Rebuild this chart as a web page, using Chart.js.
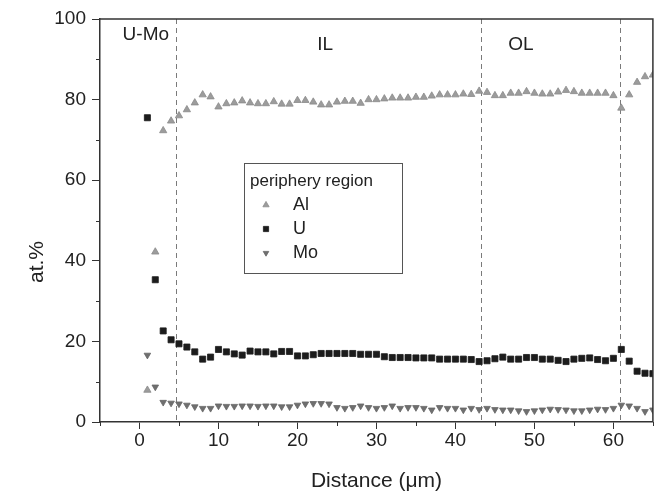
<!DOCTYPE html>
<html>
<head>
<meta charset="utf-8">
<script src="https://cdn.jsdelivr.net/npm/chart.js@4/dist/chart.umd.min.js"></script>
<style>
  html, body { margin: 0; padding: 0; background: #fff; }
  #wrap { width: 658px; height: 498px; }
</style>
</head>
<body>
<div id="wrap"><canvas id="c" width="658" height="498"></canvas></div>
<script>
// Composition profile across the periphery region (EDS line scan)
const distance = [1, 2, 3, 4, 5, 6, 7, 8, 9, 10, 11, 12, 13, 14, 15, 16, 17, 18, 19, 20,
  21, 22, 23, 24, 25, 26, 27, 28, 29, 30, 31, 32, 33, 34, 35, 36, 37, 38, 39, 40,
  41, 42, 43, 44, 45, 46, 47, 48, 49, 50, 51, 52, 53, 54, 55, 56, 57, 58, 59, 60,
  61, 62, 63, 64, 65];

const alValues = [7.9, 42.2, 72.3, 74.7, 76.0, 77.5, 79.2, 81.2, 80.7, 78.2,
  79.0, 79.2, 79.7, 79.2, 79.0, 79.0, 79.5, 78.9, 78.9, 79.8,
  79.8, 79.4, 78.7, 78.7, 79.4, 79.6, 79.6, 79.1, 80.0, 80.0,
  80.2, 80.4, 80.4, 80.4, 80.6, 80.6, 80.9, 81.2, 81.2, 81.2,
  81.4, 81.3, 82.1, 81.8, 81.0, 81.0, 81.6, 81.6, 82.0, 81.6,
  81.4, 81.4, 81.9, 82.3, 82.0, 81.6, 81.6, 81.6, 81.6, 81.0,
  77.9, 81.2, 84.3, 85.7, 86.1];

const uValues = [75.5, 35.3, 22.6, 20.4, 19.4, 18.6, 17.4, 15.6, 16.1, 18.0,
  17.4, 16.9, 16.6, 17.6, 17.4, 17.4, 16.9, 17.5, 17.5, 16.4,
  16.4, 16.7, 17.0, 17.0, 17.0, 17.0, 17.0, 16.8, 16.8, 16.8,
  16.2, 16.0, 16.0, 16.0, 15.9, 15.9, 15.9, 15.6, 15.6, 15.6,
  15.6, 15.5, 15.0, 15.2, 15.7, 16.1, 15.6, 15.6, 16.0, 16.0,
  15.6, 15.6, 15.3, 15.0, 15.6, 15.8, 15.9, 15.5, 15.2, 15.8,
  18.0, 15.1, 12.6, 12.1, 12.0];

const moValues = [16.6, 8.7, 4.9, 4.7, 4.5, 4.2, 3.8, 3.4, 3.4, 4.0,
  3.9, 3.9, 4.0, 4.0, 3.9, 4.0, 4.0, 3.8, 3.8, 4.2,
  4.5, 4.6, 4.6, 4.5, 3.6, 3.4, 3.6, 4.0, 3.6, 3.4,
  3.6, 4.0, 3.4, 3.6, 3.6, 3.4, 3.0, 3.6, 3.4, 3.4,
  3.0, 3.4, 3.1, 3.4, 3.1, 3.0, 3.0, 2.8, 2.6, 2.8,
  3.0, 3.2, 3.1, 3.0, 2.8, 2.8, 3.0, 3.2, 3.1, 3.4,
  4.2, 4.0, 3.4, 2.6, 3.0];

const seriesNames = ['Al', 'U', 'Mo'];
const legendTitle = 'periphery region';
const yTitle = 'at.%';

const xTicks = [0, 10, 20, 30, 40, 50, 60];
const xMinorTicks = [-5, 5, 15, 25, 35, 45, 55, 65];
const yTicks = [0, 20, 40, 60, 80, 100];
const yMinorTicks = [10, 30, 50, 70, 90];

// Layer boundaries (µm) and the names of the zones between them
const regionBounds = [4.6, 43.2, 60.8];
const regionNames = ['U-Mo', 'IL', 'OL'];
const regionLabelX = [0.8, 23.5, 48.3];
const regionLabelY = [96, 93.5, 93.5];

const FONT = '"Liberation Sans", Arial, Helvetica, sans-serif';
const AXIS_COLOR = '#333';

const styles = {
  Al: { style: 'triangle', rotation: 0, radius: 4.2, fill: '#9c9c9c', stroke: '#8a8a8a' },
  U:  { style: 'rect', rotation: 0, radius: 4.3, fill: '#1c1c1c', stroke: '#1c1c1c' },
  Mo: { style: 'triangle', rotation: 180, radius: 3.8, fill: '#6f6f6f', stroke: '#666' }
};

function makeSet(name, values) {
  const s = styles[name];
  return {
    label: name,
    data: distance.map((d, i) => ({ x: d, y: values[i] })),
    showLine: false,
    pointStyle: s.style,
    rotation: s.rotation,
    pointRadius: s.radius,
    pointBackgroundColor: s.fill,
    pointBorderColor: s.stroke,
    pointBorderWidth: 0.8
  };
}

const decorations = {
  id: 'decorations',
  beforeDatasetsDraw(chart) {
    const { ctx, chartArea: a, scales: { x, y } } = chart;
    ctx.save();
    // zone boundaries
    ctx.strokeStyle = '#7a7a7a';
    ctx.lineWidth = 1;
    ctx.setLineDash([5, 4]);
    regionBounds.forEach(b => {
      const px = Math.round(x.getPixelForValue(b)) + 0.5;
      ctx.beginPath();
      ctx.moveTo(px, a.top);
      ctx.lineTo(px, a.bottom);
      ctx.stroke();
    });
    ctx.setLineDash([]);
    // zone names
    ctx.fillStyle = '#222';
    ctx.font = '19px ' + FONT;
    ctx.textAlign = 'center';
    ctx.textBaseline = 'middle';
    regionNames.forEach((n, i) => {
      ctx.fillText(n, x.getPixelForValue(regionLabelX[i]), y.getPixelForValue(regionLabelY[i]));
    });
    ctx.restore();
  },
  afterDraw(chart) {
    const { ctx, chartArea: a, scales: { x, y } } = chart;
    ctx.save();
    // frame on the top and right
    ctx.strokeStyle = AXIS_COLOR;
    ctx.lineWidth = 1.5;
    ctx.beginPath();
    ctx.moveTo(a.left, a.top);
    ctx.lineTo(a.right, a.top);
    ctx.lineTo(a.right, a.bottom);
    ctx.stroke();
    // minor ticks
    ctx.lineWidth = 1;
    ctx.beginPath();
    xMinorTicks.forEach(v => {
      const px = Math.round(x.getPixelForValue(v)) + 0.5;
      ctx.moveTo(px, a.bottom);
      ctx.lineTo(px, a.bottom + 4);
    });
    yMinorTicks.forEach(v => {
      const py = Math.round(y.getPixelForValue(v)) + 0.5;
      ctx.moveTo(a.left, py);
      ctx.lineTo(a.left - 4, py);
    });
    ctx.stroke();

    // y-axis title, sitting a little below the middle of the axis
    ctx.fillStyle = '#222';
    ctx.font = '21px ' + FONT;
    ctx.textAlign = 'center';
    ctx.textBaseline = 'middle';
    ctx.translate(37, 262);
    ctx.rotate(-Math.PI / 2);
    ctx.fillText(yTitle, 0, 0);
    ctx.setTransform(1, 0, 0, 1, 0, 0);

    // legend box
    const bx = 244, by = 163, bw = 158, bh = 110;
    ctx.fillStyle = '#fff';
    ctx.fillRect(bx, by, bw, bh);
    ctx.strokeStyle = '#555';
    ctx.lineWidth = 1;
    ctx.strokeRect(bx + 0.5, by + 0.5, bw, bh);
    ctx.fillStyle = '#222';
    ctx.font = '17px ' + FONT;
    ctx.textAlign = 'left';
    ctx.textBaseline = 'middle';
    ctx.fillText(legendTitle, bx + 6, by + 18);
    seriesNames.forEach((n, i) => {
      const s = styles[n];
      const cy = by + 42 + i * 24;
      ctx.fillStyle = s.fill;
      ctx.strokeStyle = s.stroke;
      ctx.lineWidth = 0.8;
      Chart.helpers.drawPoint(ctx, { pointStyle: s.style, rotation: s.rotation, radius: s.radius - 0.6, borderWidth: 0.8 }, bx + 22, cy);
      ctx.fillStyle = '#222';
      ctx.font = '18px ' + FONT;
      ctx.fillText(n, bx + 49, cy);
    });
    ctx.restore();
  }
};

new Chart(document.getElementById('c'), {
  type: 'scatter',
  data: {
    datasets: [makeSet('Al', alValues), makeSet('U', uValues), makeSet('Mo', moValues)]
  },
  options: {
    responsive: false,
    devicePixelRatio: 1,
    animation: false,
    layout: { padding: { top: 19, right: 5, left: 0, bottom: 0 } },
    plugins: { legend: { display: false }, tooltip: { enabled: false } },
    scales: {
      x: {
        type: 'linear',
        min: -5,
        max: 65,
        afterBuildTicks: s => { s.ticks = xTicks.map(v => ({ value: v })); },
        afterFit: s => { s.height = 76; },
        grid: { display: true, drawOnChartArea: false, drawTicks: true, tickLength: 7, color: AXIS_COLOR, tickColor: AXIS_COLOR },
        border: { display: true, color: AXIS_COLOR, width: 1.5 },
        ticks: { color: '#222', font: { family: FONT, size: 19 }, padding: 0, maxRotation: 0 },
        title: { display: true, text: 'Distance (μm)', color: '#222', font: { family: FONT, size: 21 }, padding: { top: 8 } }
      },
      y: {
        type: 'linear',
        min: 0,
        max: 100,
        afterBuildTicks: s => { s.ticks = yTicks.map(v => ({ value: v })); },
        afterFit: s => { s.width = 100; },
        grid: { display: true, drawOnChartArea: false, drawTicks: true, tickLength: 8, color: AXIS_COLOR, tickColor: AXIS_COLOR },
        border: { display: true, color: AXIS_COLOR, width: 1.5 },
        ticks: { color: '#222', font: { family: FONT, size: 19 }, padding: 6 }
      }
    }
  },
  plugins: [decorations]
});
</script>
</body>
</html>
